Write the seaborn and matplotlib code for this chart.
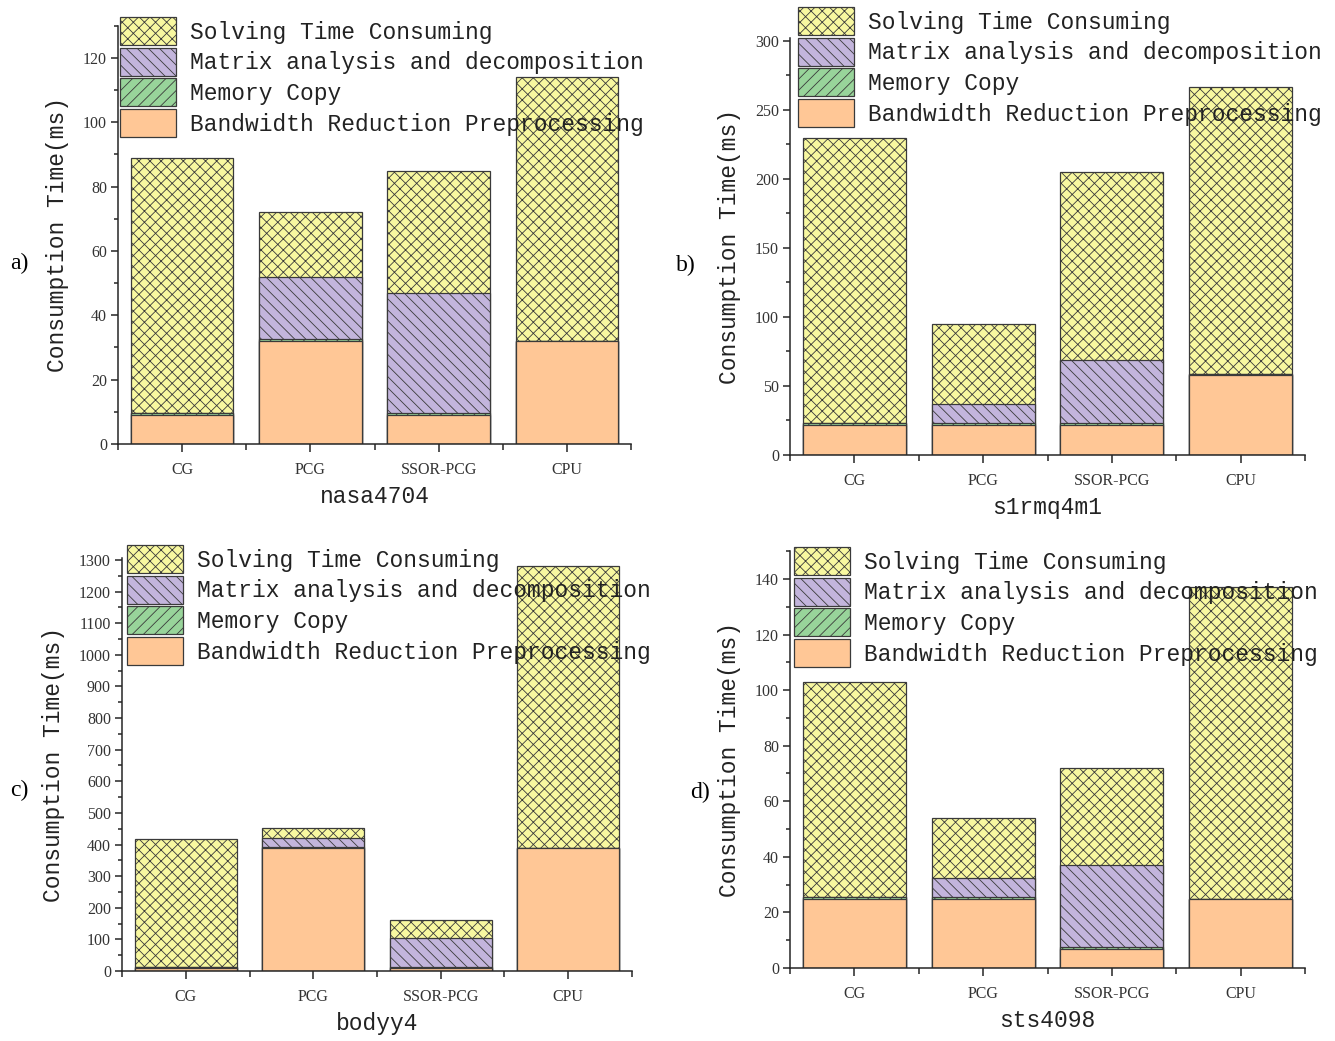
import matplotlib
matplotlib.use("Agg")
import matplotlib.pyplot as plt
import seaborn as sns
import numpy as np
from matplotlib.ticker import MultipleLocator
from matplotlib.font_manager import FontProperties

# ---------------- data ----------------
categories = ["CG", "PCG", "SSOR-PCG", "CPU"]
layer_names = ["Solving Time Consuming", "Matrix analysis and decomposition",
               "Memory Copy", "Bandwidth Reduction Preprocessing"]

# panel a) nasa4704
a_bandwidth = [9, 32, 9, 32]
a_memory = [0.6, 0.6, 0.6, 0]
a_matrix = [0, 19.4, 37.4, 0]
a_solving = [79.4, 20, 38, 82]

# panel b) s1rmq4m1
b_bandwidth = [22, 22, 22, 58]
b_memory = [1, 1, 1, 1]
b_matrix = [0, 14, 46, 0]
b_solving = [207, 58, 136, 208]

# panel c) bodyy4
c_bandwidth = [10, 390, 10, 390]
c_memory = [2, 2, 2, 0]
c_matrix = [0, 30, 93, 0]
c_solving = [406, 31, 55, 890]

# panel d) sts4098
d_bandwidth = [25, 25, 7, 25]
d_memory = [0.5, 0.5, 0.5, 0]
d_matrix = [0, 7, 29.5, 0]
d_solving = [77.5, 21.5, 35, 112]

matrix_names = ["nasa4704", "s1rmq4m1", "bodyy4", "sts4098"]
panel_tags = ["a)", "b)", "c)", "d)"]

# ---------------- style ----------------
sns.set_theme(style="ticks")
plt.rcParams["font.family"] = ["Liberation Serif", "DejaVu Serif"]
plt.rcParams["hatch.linewidth"] = 0.6
plt.rcParams["axes.linewidth"] = 1.1

W, H = 1335, 1041
fig = plt.figure(figsize=(W / 100, H / 100), dpi=100)

col_solve = "#F8F8A0"
col_matrix = "#C3B5DC"
col_memory = "#98D49A"
col_bw = "#FFC796"
edge = "#3a3a3a"

mono = FontProperties(family="Liberation Mono", size=16.5)

panels = [
    dict(bw=a_bandwidth, mem=a_memory, mat=a_matrix, sol=a_solving,
         rect=(118, 631, 444, 25.8), ylim=130, major=20, minor=10,
         leg=(120, 17), tag=(10, 263)),
    dict(bw=b_bandwidth, mem=b_memory, mat=b_matrix, sol=b_solving,
         rect=(790, 1305, 455, 38.2), ylim=302, major=50, minor=25,
         leg=(798, 7), tag=(676, 265)),
    dict(bw=c_bandwidth, mem=c_memory, mat=c_matrix, sol=c_solving,
         rect=(122, 632, 971, 558.4), ylim=1305, major=100, minor=50,
         leg=(127, 545), tag=(10, 790)),
    dict(bw=d_bandwidth, mem=d_memory, mat=d_matrix, sol=d_solving,
         rect=(790, 1305, 968, 551.2), ylim=150, major=20, minor=10,
         leg=(794, 547), tag=(690, 792)),
]

for i, p in enumerate(panels):
    x0, x1, yb, yt = p["rect"]
    ax = fig.add_axes([x0 / W, 1 - yb / H, (x1 - x0) / W, (yb - yt) / H])
    bw = np.array(p["bw"], float)
    mem = np.array(p["mem"], float)
    mat = np.array(p["mat"], float)
    sol = np.array(p["sol"], float)
    cum_mem = bw + mem
    cum_mat = cum_mem + mat
    cum_sol = cum_mat + sol

    layers = [(cum_sol, col_solve, "xxx"), (cum_mat, col_matrix, "\\\\\\"),
              (cum_mem, col_memory, "///"), (bw, col_bw, "")]
    handles = []
    for vals, col, hatch in layers:
        sns.barplot(x=categories, y=vals, ax=ax, color=col, saturation=1,
                    edgecolor=edge, linewidth=0.9, hatch=hatch, width=0.8,
                    errorbar=None)
        handles.append(ax.containers[-1])

    ax.set_xlim(-0.5, 3.5)
    ax.set_ylim(0, p["ylim"])
    ax.yaxis.set_minor_locator(MultipleLocator(p["minor"]))
    ax.set_xticks(range(4))
    ax.set_xticklabels(categories)
    ax.set_xticks([-0.5, 0.5, 1.5, 2.5, 3.5], minor=True)
    ymax_tick = (p["ylim"] // p["major"]) * p["major"]
    ax.set_yticks(np.arange(0, ymax_tick + 1, p["major"]))
    sns.despine(ax=ax)
    for s in ["left", "bottom"]:
        ax.spines[s].set_color("#262626")
    ax.tick_params(axis="both", which="major", direction="out", length=5,
                   width=1.1, colors="#262626", labelsize=11.5,
                   labelcolor="#333333", pad=3)
    ax.tick_params(axis="both", which="minor", direction="out", length=3,
                   width=1.1, colors="#262626")
    ax.tick_params(axis="x", which="major", length=6, pad=7)
    ax.tick_params(axis="x", which="minor", length=4)

    ax.set_xlabel(matrix_names[i], fontproperties=mono, color="#222222",
                  labelpad=5)
    ax.set_ylabel("Consumption Time(ms)", fontproperties=mono,
                  color="#222222", labelpad=10)

    lx, ly = p["leg"]
    fig.legend(handles, layer_names, loc="upper left",
               bbox_to_anchor=(lx / W, 1 - ly / H),
               bbox_transform=fig.transFigure, frameon=False, prop=mono,
               handlelength=2.45, handleheight=1.5, labelspacing=0.12,
               handletextpad=0.6, borderpad=0, borderaxespad=0,
               labelcolor="#222222")

    tx, ty = p["tag"]
    fig.text(tx / W, 1 - ty / H, panel_tags[i], fontsize=17,
             family="Liberation Serif", ha="left", va="center", color="black")

fig.savefig("out.png", dpi=100)
